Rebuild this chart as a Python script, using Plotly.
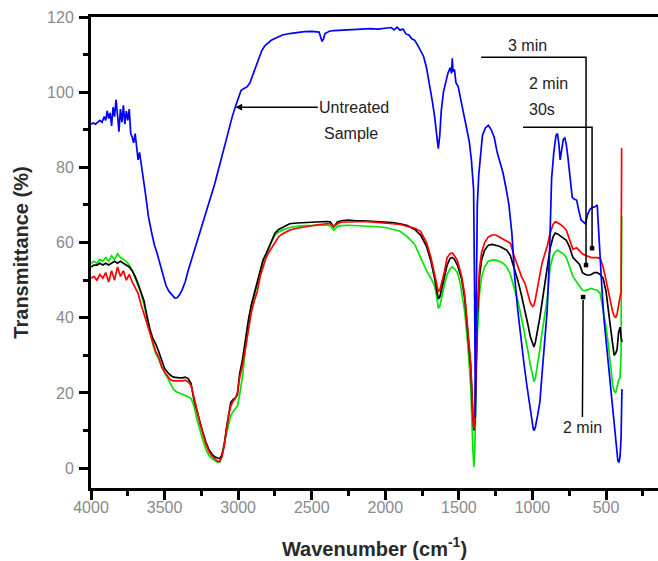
import plotly.graph_objects as go

# ---- FTIR spectra: treated samples share one wavenumber grid ----
wn_treated = [
    4000, 3980, 3960, 3940, 3920, 3900, 3880, 3860, 3840, 3820, 3800, 3780, 3760, 3740, 3720, 3700, 3680,
    3660, 3640, 3620, 3600, 3580, 3560, 3540, 3520, 3500, 3480, 3460, 3440, 3420, 3400, 3380, 3360, 3340,
    3320, 3300, 3280, 3260, 3240, 3220, 3200, 3180, 3160, 3140, 3125, 3110, 3095, 3080, 3065, 3050, 3035,
    3020, 3005, 2990, 2970, 2950, 2930, 2910, 2890, 2870, 2850, 2830, 2810, 2790, 2770, 2750, 2725, 2700,
    2650, 2600, 2550, 2500, 2450, 2400, 2375, 2350, 2325, 2300, 2250, 2200, 2150, 2100, 2050, 2000, 1950,
    1900, 1850, 1800, 1760, 1720, 1690, 1665, 1650, 1640, 1630, 1615, 1600, 1580, 1560, 1545, 1530, 1510,
    1490, 1480, 1460, 1440, 1420, 1405, 1398, 1392, 1385, 1375, 1360, 1345, 1325, 1300, 1275, 1250, 1225,
    1200, 1175, 1150, 1125, 1100, 1075, 1050, 1030, 1015, 1000, 990, 980, 965, 950, 935, 920, 900, 880,
    860, 845, 830, 810, 790, 770, 750, 725, 700, 680, 660, 640, 620, 600, 580, 560, 540, 520, 500, 485,
    470, 455, 445, 435, 425, 415, 405, 398, 394, 392,
]

t_3min = [
    50.5, 51, 50, 51.5, 50.5, 52, 49.5, 52.5, 50, 53.5, 51, 52.5, 50, 51.5, 49.5, 48, 46.5,
    43.5, 41, 38, 35.5, 33, 31, 29.5, 27, 25.5, 24.5, 23.5, 23.2, 23.2, 23, 23.2, 23.4, 23,
    22, 19, 15.5, 12, 9, 6.5, 4.5, 3.3, 2.5, 1.8, 1.8, 3, 6, 10.5, 14, 16.5, 17.8,
    18.5, 20, 24, 27.5, 32, 37, 41.5, 44.5, 47, 51, 53.5, 56, 57.5, 58.8, 60, 61.5, 62.3,
    63.3, 63.8, 64.2, 64.6, 64.8, 65, 65, 64.3, 65, 65.4, 65.5, 65.6, 65.6, 65.5, 65.4, 65.3, 65,
    64.8, 64.3, 63.8, 63, 60, 56, 51.5, 49, 47, 47.3, 49.5, 52, 56, 57, 57.2, 56.5, 55.2,
    52.5, 50.8, 46, 38, 28, 14, 10.5, 12, 25, 42, 53, 57.5, 60, 61.5, 62, 62, 61.5,
    61, 60.5, 59.8, 56.5, 53.5, 51, 49, 46, 44, 43, 43.3, 45, 48.5, 52, 54.5, 56.5, 59, 62.5,
    64.8, 65.5, 65.3, 64.8, 64.2, 63.3, 61, 58.2, 58.6, 57.8, 57, 56.6, 56.3, 56, 56, 56, 55.8, 53.5, 50, 47,
    44, 41.5, 40.5, 40, 41, 43, 45, 47, 85, 85,
]

t_2min30s = [
    53.5, 54, 54, 54.5, 54, 54.5, 54, 54.5, 55, 54.5, 55, 54.5, 54, 53.5, 52.5, 51, 49,
    46.5, 44.5, 40.5, 37, 34.5, 33, 31, 28.5, 26.5, 25.5, 24.7, 24.2, 24, 24, 24, 24.2, 23.8,
    22.5, 18, 15, 12, 9.5, 7, 5, 3.8, 3, 2.7, 2.5, 3.5, 6, 10.5, 14.5, 17.5, 18.2,
    18.6, 19.5, 25, 29, 35, 39.5, 43.5, 46.5, 49.5, 53, 55.5, 57, 59, 61, 62.5, 63.5, 64,
    65, 65.2, 65.3, 65.5, 65.5, 65.6, 65.5, 64.2, 65.5, 65.8, 66, 65.8, 65.8, 65.7, 65.6, 65.5, 65.3,
    65, 64.5, 63.5, 62, 59, 55, 50.5, 47.5, 45, 45.5, 48, 50.5, 54, 55.8, 56, 55.5, 54,
    51.5, 50, 45, 37, 27, 14, 10, 12, 24, 40, 51, 55.5, 58, 59.3, 59.5, 59.3, 59,
    58.5, 58, 56.5, 53.5, 50, 46, 42, 38, 35, 33, 32.2, 33.5, 36.5, 40, 44, 48, 53.5, 58.5,
    61.5, 62.5, 62.3, 61.8, 61.2, 60.6, 59, 56, 55, 54.2, 52, 51.5, 51.3, 51.5, 52, 52, 51.5, 50.5, 47, 41.5,
    37.5, 33, 30, 30.5, 31.5, 36, 37.5, 35, 33.5, 33.5,
]

t_2min = [
    54.5, 55, 54.5, 55.5, 55, 56, 55, 56.5, 55.5, 57, 56, 55.5, 55, 54, 52.5, 50.5, 48.5,
    46.5, 43.5, 40, 36.5, 33, 30.5, 29, 27, 25.5, 24, 22.5, 21, 20.3, 20, 19.7, 19.3, 19,
    18.5, 16.5, 13, 10, 7.5, 5, 3.5, 2.5, 2, 1.6, 1.6, 3.5, 6.5, 9, 12, 14, 15,
    15.8, 16.5, 19.5, 24.5, 32, 38, 43, 46, 49, 52.5, 55, 57, 59, 60.5, 62, 62.8, 63.3,
    64, 64.3, 64.5, 64.5, 64.6, 64.7, 64.5, 63.3, 64.3, 64.5, 64.6, 64.5, 64.5, 64.4, 64.2, 64, 63.5,
    63, 61.5, 59.5, 56, 52.5, 50.5, 48.5, 45.5, 42.5, 43, 46, 48.5, 51.5, 53, 53.5, 53, 52,
    49, 46.5, 41.5, 33, 22, 5, 0.3, 5, 18, 35, 46.5, 51, 53.5, 55, 55.3, 55.3, 55,
    54.5, 53.5, 51.5, 48, 44.5, 40, 35.5, 31, 27.5, 24.5, 23, 24, 27.5, 31.5, 36, 40, 45, 53.5,
    56.5, 57.5, 58, 57.5, 57, 56, 53.5, 51, 49.5, 48.5, 47.3, 47.2, 47.5, 47.8, 47.5, 47.3, 46.5, 42.5, 37.5, 33,
    26.5, 22, 20.5, 20, 21.5, 23.4, 24, 30, 67, 67,
]

# ---- untreated sample on its own grid ----
wn_untreated = [
    4000, 3985, 3970, 3955, 3940, 3925, 3910, 3900, 3890, 3880, 3870, 3860, 3850, 3840, 3830, 3820, 3810,
    3800, 3790, 3780, 3770, 3760, 3750, 3740, 3730, 3720, 3710, 3700, 3690, 3680, 3670, 3660, 3650, 3630,
    3610, 3590, 3570, 3550, 3530, 3510, 3490, 3470, 3450, 3430, 3415, 3400, 3380, 3360, 3340, 3320, 3300,
    3280, 3260, 3240, 3220, 3200, 3180, 3160, 3140, 3120, 3100, 3080, 3060, 3040, 3020, 3000, 2980, 2960,
    2940, 2920, 2900, 2880, 2860, 2840, 2820, 2800, 2775, 2750, 2725, 2700, 2650, 2600, 2550, 2500, 2450,
    2430, 2420, 2410, 2380, 2350, 2300, 2250, 2200, 2150, 2100, 2050, 2000, 1960, 1940, 1920, 1900, 1880,
    1860, 1840, 1820, 1800, 1780, 1760, 1740, 1720, 1700, 1680, 1665, 1650, 1640, 1630, 1620, 1605, 1590,
    1575, 1560, 1550, 1545, 1540, 1530, 1520, 1505, 1490, 1470, 1450, 1430, 1415, 1400, 1393, 1388, 1383,
    1375, 1365, 1355, 1340, 1320, 1300, 1280, 1260, 1240, 1220, 1200, 1180, 1160, 1140, 1120, 1100, 1080,
    1060, 1040, 1020, 1005, 995, 988, 980, 965, 950, 935, 920, 900, 885, 870, 855, 840, 830, 820, 812,
    800, 790, 780, 770, 760, 750, 740, 730, 715, 700, 685, 670, 655, 640, 625, 610, 595, 575, 560, 552,
    545, 530, 515, 500, 485, 470, 455, 440, 430, 420, 412, 405, 398, 394, 392,
]

t_untreated = [
    91.5, 91.8, 91.5, 92, 92.5, 92, 93.5, 92.5, 95, 93, 94.5, 91, 96, 93.5, 98, 94, 89.5,
    95.5, 92, 96.5, 91.5, 95, 92.5, 95.5, 89, 88, 86.5, 89, 85.5, 82, 84, 80.5, 78.5, 73,
    67, 63, 59.5, 57, 54, 51, 48.5, 47, 46, 45.2, 45.3, 46, 47.5, 49.5, 52.5, 55, 57.5,
    60, 62.5, 65, 67.5, 70, 72.5, 75.5, 78.5, 81.5, 84.6, 88, 90.8, 93.5, 96, 98.5, 100.5, 101,
    101.4, 102.5, 104.5, 106.5, 108.5, 111, 112.3, 113, 113.8, 114.3, 114.8, 115.2, 115.6, 115.9, 116.1, 116.2, 116,
    113.5, 114.2, 115.6, 116.2, 116.4, 116.5, 116.7, 116.8, 116.7, 116.9, 116.8, 117, 117.2, 116.6, 117.3, 116.5, 116.8,
    115.5, 115.2, 114.2, 113.8, 112.5, 111, 109.5, 106.5, 102.5, 97.5, 93.5, 89, 85, 88.5, 95, 100, 103,
    105, 106.5, 105, 109, 105.5, 106, 102.5, 101.5, 98.5, 95.2, 91.5, 87, 82, 74, 45, 13.5, 40,
    70, 78, 82, 88.5, 90.5, 91.2, 90, 88, 84, 81, 78.5, 74.5, 70, 62.5, 50.5, 42, 34.5,
    28.5, 22.5, 16.5, 13, 10.5, 10, 11, 14, 17.5, 25, 33.5, 42, 56, 77, 84, 88.5, 89, 86, 82,
    85, 87.5, 87.8, 86, 83, 79, 77, 72, 71.5, 71.3, 68.5, 66, 65.5, 65, 67.5, 68.8, 69.3, 69.5, 70, 64,
    58, 49, 40, 33, 28, 22, 16.5, 10, 5.5, 2, 1.5, 3, 8, 21, 21,
]

assert len(wn_treated) == len(t_3min) == len(t_2min30s) == len(t_2min)
assert len(wn_untreated) == len(t_untreated)

x_ticks = [4000, 3500, 3000, 2500, 2000, 1500, 1000, 500]
y_ticks = [0, 20, 40, 60, 80, 100, 120]

TEXT_FONT = "Liberation Sans, Arial, sans-serif"
LINE_W = 1.7
POINTER = dict(color="#000000", width=1.5)

fig = go.Figure()
fig.add_trace(go.Scatter(x=wn_treated, y=t_2min, mode="lines",
                         line=dict(color="#00e600", width=LINE_W), name="2 min"))
fig.add_trace(go.Scatter(x=wn_treated, y=t_2min30s, mode="lines",
                         line=dict(color="#000000", width=LINE_W), name="2 min 30s"))
fig.add_trace(go.Scatter(x=wn_treated, y=t_3min, mode="lines",
                         line=dict(color="#ff0000", width=LINE_W), name="3 min"))
fig.add_trace(go.Scatter(x=wn_untreated, y=t_untreated, mode="lines",
                         line=dict(color="#0000ff", width=LINE_W), name="Untreated"))

label_font = dict(family=TEXT_FONT, size=16, color="#222222")
title_font = dict(family=TEXT_FONT, size=20, color="#2a2a2a")


def label(x, y, text, anchor="left"):
    return dict(x=x, y=y, xref="x", yref="y", text=text, xanchor=anchor,
                yanchor="middle", showarrow=False, font=label_font)


annotations = [
    # "Untreated Sample" with a leftward arrow to the blue spectrum
    dict(x=3019, y=96, ax=2211, ay=96, xref="x", yref="y", axref="x", ayref="y",
         text="Untreated", showarrow=True, arrowhead=2, arrowsize=0.9,
         arrowwidth=1.5, arrowcolor="#000000", font=label_font),
    label(2430, 89, "Sample"),
    label(1036, 112.5, "3 min", anchor="center"),
    label(1037, 102.4, "2 min"),
    label(1037, 95.3, "30s"),
    # lower "2 min" label with an upward pointer
    dict(x=656, y=44.7, ax=661, ay=10.9, xref="x", yref="y", axref="x", ayref="y",
         text="2 min", showarrow=True, arrowhead=0, arrowwidth=1.5,
         arrowcolor="#000000", font=label_font),
]


def dot(x, y):
    # small filled square marking the end of a pointer line
    return dict(type="path", xref="x", yref="y", xsizemode="pixel", ysizemode="pixel",
                xanchor=x, yanchor=y, path="M -2,-2 L 2,-2 L 2,2 L -2,2 Z",
                fillcolor="#000000", line=dict(color="#000000", width=0.5))


shapes = [
    # 3 min pointer
    dict(type="path", xref="x", yref="y", path="M 1349,109.3 L 636,109.3 L 636,54",
         line=POINTER),
    dot(636, 54),
    # 2 min 30s pointer
    dict(type="path", xref="x", yref="y", path="M 1064,90.7 L 595,90.7 L 595,58.5",
         line=POINTER),
    dot(595, 58.5),
    dot(656, 45.5),
]

axis_common = dict(showline=True, linecolor="#000000", linewidth=3, ticks="outside",
                   ticklen=9, tickwidth=3, tickcolor="#000000", showgrid=False,
                   zeroline=False, automargin=False,
                   tickfont=dict(family=TEXT_FONT, size=16, color="#8a8a8a"))

fig.update_layout(
    width=658, height=561,
    margin=dict(l=91, r=0, t=17, b=73),
    paper_bgcolor="white", plot_bgcolor="white",
    showlegend=False,
    xaxis=dict(range=[4000, 147], tickvals=x_ticks, mirror=True,
               minor=dict(dtick=250, ticks="outside", ticklen=5, tickwidth=3,
                          tickcolor="#000000"),
               ticklabelstandoff=-6,
               title=dict(text="<b>Wavenumber (cm<sup>-1</sup>)</b>", font=title_font,
                          standoff=27),
               **axis_common),
    yaxis=dict(range=[-5.3, 120], tickvals=y_ticks, mirror=False,
               minor=dict(dtick=10, ticks="outside", ticklen=5, tickwidth=3,
                          tickcolor="#000000"),
               ticklabelstandoff=2,
               title=dict(text="<b>Transmittance (%)</b>", font=title_font, standoff=14),
               **axis_common),
    annotations=annotations,
    shapes=shapes,
)

fig.write_html("out.html")
